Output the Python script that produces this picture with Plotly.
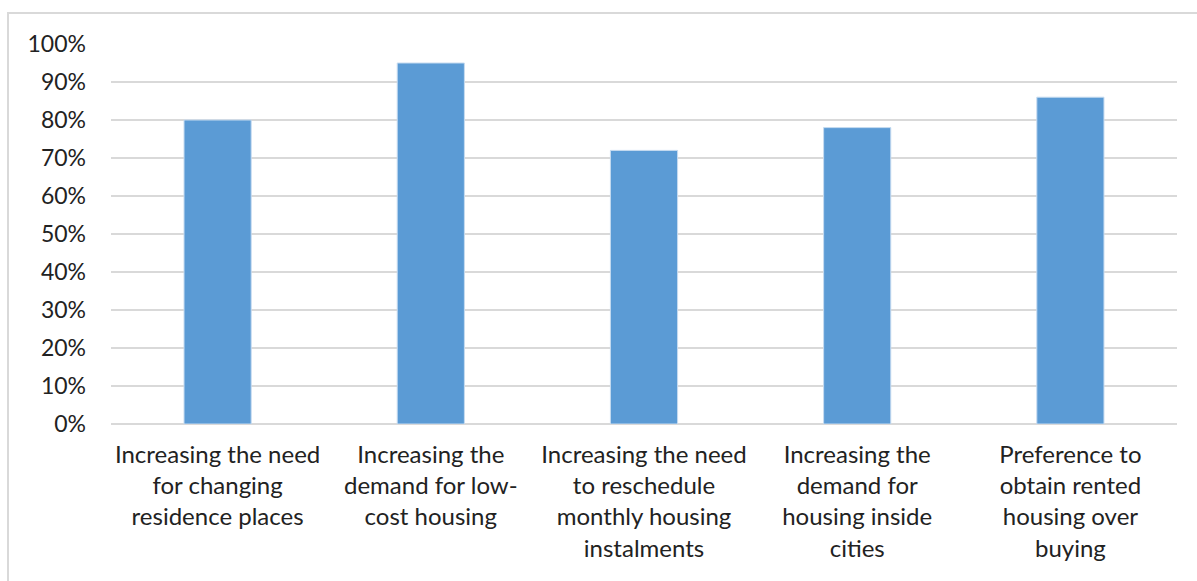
import plotly.graph_objects as go

categories = [
    "Increasing the need<br>for changing<br>residence places",
    "Increasing the<br>demand for low-<br>cost housing",
    "Increasing the need<br>to reschedule<br>monthly housing<br>instalments",
    "Increasing the<br>demand for<br>housing inside<br>cities",
    "Preference to<br>obtain rented<br>housing over<br>buying",
]
values = [0.80, 0.95, 0.72, 0.78, 0.86]
tick_vals = [0, 0.1, 0.2, 0.3, 0.4, 0.5, 0.6, 0.7, 0.8, 0.9, 1.0]
tick_text = ["0%", "10%", "20%", "30%", "40%", "50%", "60%", "70%", "80%", "90%", "100%"]

FONT = "Lato, Carlito, Calibri, sans-serif"
GRID = "#d9d9d9"

fig = go.Figure(go.Bar(
    x=categories, y=values,
    marker=dict(color="#5B9BD5", line=dict(color="#c6dbf0", width=1)),
    width=0.315,
))

fig.update_layout(
    width=1197, height=581,
    margin=dict(l=111, r=20, t=44, b=157, autoexpand=False),
    paper_bgcolor="white", plot_bgcolor="white",
    showlegend=False,
    font=dict(family=FONT, size=24, color="#222222"),
    xaxis=dict(showgrid=False, showline=False, ticks="", tickangle=0,
               ticklabelstandoff=14, tickfont=dict(family=FONT, size=24, color="#222222")),
    yaxis=dict(range=[0, 1.0], tickvals=tick_vals, ticktext=tick_text,
               showgrid=True, gridcolor=GRID, gridwidth=2,
               zeroline=True, zerolinecolor=GRID, zerolinewidth=2,
               showline=False, ticks="", ticklabelstandoff=24,
               tickfont=dict(family=FONT, size=23, color="#222222")),
    shapes=[dict(type="rect", xref="paper", yref="paper",
                 x0=(8 - 111) / 1066, x1=1.2, y0=-0.6, y1=1 + (44 - 13) / 380,
                 line=dict(color=GRID, width=2), layer="below")],
)

fig.write_html("out.html")
